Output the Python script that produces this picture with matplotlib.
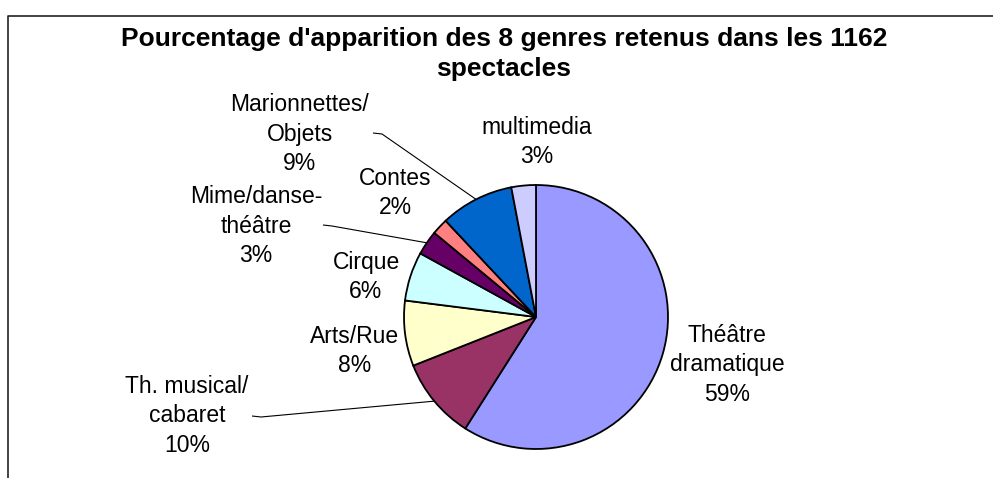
"""Pie chart: share of the 8 retained genres across the 1162 shows."""

import matplotlib

matplotlib.use("Agg")
import matplotlib.pyplot as plt
import numpy as np

W, H = 993, 478

# --- data -----------------------------------------------------------------
labels = [
    "Théâtre\ndramatique",
    "Th. musical/\ncabaret",
    "Arts/Rue",
    "Cirque",
    "Mime/danse-\nthéâtre",
    "Contes",
    "Marionnettes/\nObjets",
    "multimedia",
]
shares = [59, 10, 8, 6, 3, 2, 9, 3]
colors = ["#9999FF", "#993366", "#FFFFCC", "#CCFFFF",
          "#660066", "#FF8080", "#0066CC", "#CCCCFF"]

# label block centres in pixel coords (x from left, y from top)
label_pos = [(727, 365), (187, 416), (355, 351), (366, 277),
             (256, 226), (395, 193), (300, 134), (537, 142)]
# labels that get a leader line: index -> start of the line (pixels)
leader_start = {1: (252, 416), 4: (323, 225), 6: (373, 133)}

TITLE_LINES = ["Pourcentage d'apparition des 8 genres retenus dans les 1162",
               "spectacles"]

plt.rcParams["font.family"] = ["Liberation Sans", "DejaVu Sans"]

fig = plt.figure(figsize=(W / 100, H / 100), dpi=100)
ax = fig.add_axes([0, 0, 1, 1])


def px(x, y):
    return x, H - y


center = px(536, 317)
radius = 132

wedges, _ = ax.pie(
    shares,
    colors=colors,
    startangle=90,
    counterclock=False,
    center=center,
    radius=radius,
    frame=True,
    wedgeprops=dict(edgecolor="black", linewidth=1.3),
)
ax.set_xlim(0, W)
ax.set_ylim(0, H)
ax.axis("off")

for i, (lab, val) in enumerate(zip(labels, shares)):
    x, y = px(*label_pos[i])
    ax.text(x, y, f"{lab}\n{val}%", ha="center", va="center",
            multialignment="center", fontsize=16.5, linespacing=1.38)
    if i in leader_start:
        w = wedges[i]
        mid = np.deg2rad((w.theta1 + w.theta2) / 2)
        ex = center[0] + radius * np.cos(mid)
        ey = center[1] + radius * np.sin(mid)
        sx, sy = px(*leader_start[i])
        ax.plot([sx, sx + 9, ex], [sy, sy - 1, ey], color="black", lw=0.8,
                solid_capstyle="butt")

for k, line in enumerate(TITLE_LINES):
    ax.text(504, H - (46 + 30 * k), line, ha="center", va="baseline",
            fontsize=19, fontweight="bold")

# chart frame (cropped: only the left and top edges are visible)
ax.plot([8, 8, W], [0, H - 16, H - 16], color="#222222", lw=1.2,
        clip_on=False)

fig.savefig("out.png", dpi=100)
